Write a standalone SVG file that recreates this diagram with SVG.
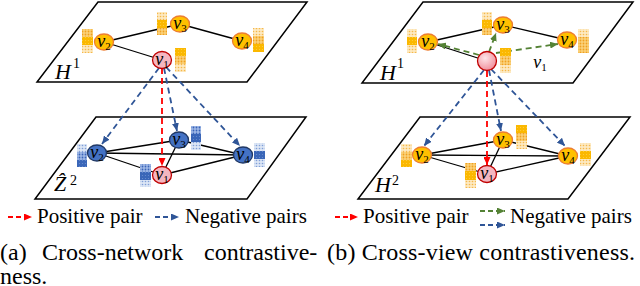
<svg xmlns="http://www.w3.org/2000/svg" width="640" height="286" viewBox="0 0 640 286">
<style>
.plane{fill:#fff;stroke:#000;stroke-width:1.5}
.edge{stroke:#000;stroke-width:1.3;fill:none}
.red{stroke:#ff0000;stroke-width:1.8;stroke-dasharray:6 4;fill:none}
.blue{stroke:#2f5597;stroke-width:1.8;stroke-dasharray:6 4;fill:none}
.green{stroke:#548235;stroke-width:1.8;stroke-dasharray:6 4;fill:none}
.on{fill:#ffc000;stroke:#ed7d31;stroke-width:1.3}
.pn{fill:#f4b6c0;stroke:#c00000;stroke-width:1.3}
.bn{fill:#4472c4;stroke:#203864;stroke-width:1.3}
text{font-family:'Liberation Serif','Times New Roman','DejaVu Serif',serif;fill:#000}
.lbl{font-style:italic;font-size:18px}
.sub{font-size:11px;font-style:normal}
.math{font-style:italic;font-size:22px}
.sup{font-size:14px}
.leg{font-size:21px}
.cap{font-size:24px}
</style>
<defs>
<pattern id="oL" width="3" height="3" patternUnits="userSpaceOnUse"><rect width="3" height="3" fill="#fde9c0"/><circle cx="1.5" cy="1.5" r="0.8" fill="#f6b84a"/></pattern>
<pattern id="oM" width="3" height="3" patternUnits="userSpaceOnUse"><rect width="3" height="3" fill="#fbd27a"/><circle cx="1.5" cy="1.5" r="0.9" fill="#f0a020"/></pattern>
<pattern id="oS" width="3" height="3" patternUnits="userSpaceOnUse"><rect width="3" height="3" fill="#fbb800"/><circle cx="1.5" cy="1.5" r="0.6" fill="#ffd040"/></pattern>
<pattern id="bL" width="3" height="3" patternUnits="userSpaceOnUse"><rect width="3" height="3" fill="#dbe5f5"/><circle cx="1.5" cy="1.5" r="0.8" fill="#7f9fd8"/></pattern>
<pattern id="bM" width="3" height="3" patternUnits="userSpaceOnUse"><rect width="3" height="3" fill="#9fb8e6"/><circle cx="1.5" cy="1.5" r="0.9" fill="#3a64b8"/></pattern>
<pattern id="bS" width="3" height="3" patternUnits="userSpaceOnUse"><rect width="3" height="3" fill="#3a66b8"/><circle cx="1.5" cy="1.5" r="0.6" fill="#6b8ed0"/></pattern>
<radialGradient id="pg" cx="0.4" cy="0.35" r="0.7"><stop offset="0" stop-color="#fde4e8"/><stop offset="1" stop-color="#f08a98"/></radialGradient>
<marker id="ar" markerWidth="8" markerHeight="7" refX="8" refY="3.5" orient="auto" markerUnits="userSpaceOnUse"><path d="M0,0 L8,3.5 L0,7 z" fill="#ff0000"/></marker>
<marker id="ab" markerWidth="8" markerHeight="7" refX="8" refY="3.5" orient="auto" markerUnits="userSpaceOnUse"><path d="M0,0 L8,3.5 L0,7 z" fill="#2f5597"/></marker>
<marker id="ag" markerWidth="8" markerHeight="7" refX="8" refY="3.5" orient="auto" markerUnits="userSpaceOnUse"><path d="M0,0 L8,3.5 L0,7 z" fill="#548235"/></marker>
</defs>

<g id="planes">
<polygon class="plane" points="98,2 307,2 247,82 37,82"/>
<polygon class="plane" points="96,117 306,117 247,199 35,199"/>
<polygon class="plane" points="423,2 633,2 573,83 362,83"/>
<polygon class="plane" points="420,117 630,117 568,199 358,199"/>
</g>

<g id="labels">
<text class="math" x="55" y="79">H</text><text class="sup" x="73" y="68">1</text>
<text class="math" x="54" y="191">Ẑ</text><text class="sup" x="70" y="185">2</text>
<text class="math" x="380" y="80">H</text><text class="sup" x="397" y="68">1</text>
<text class="math" x="375" y="192">H</text><text class="sup" x="392" y="185">2</text>
</g>

<g id="connectors">
<line class="edge" x1="104" y1="42" x2="180" y2="24"/>
<line class="edge" x1="180" y1="24" x2="242" y2="41"/>
<line class="edge" x1="104" y1="42" x2="162" y2="60"/>
<line class="edge" x1="97" y1="153" x2="179" y2="140"/>
<line class="edge" x1="179" y1="140" x2="243" y2="155"/>
<line class="edge" x1="97" y1="153" x2="243" y2="155"/>
<line class="edge" x1="97" y1="153" x2="162" y2="175"/>
<line class="edge" x1="162" y1="175" x2="243" y2="155"/>
<line class="edge" x1="179" y1="140" x2="162" y2="175"/>
<line class="blue" x1="159" y1="68" x2="102" y2="144" marker-end="url(#ab)"/>
<line class="blue" x1="164" y1="68" x2="177" y2="131" marker-end="url(#ab)"/>
<line class="blue" x1="166" y1="67" x2="240" y2="146" marker-end="url(#ab)"/>
<line class="red" x1="162" y1="68" x2="162" y2="166" marker-end="url(#ar)"/>
<line class="edge" x1="428" y1="42" x2="503" y2="25"/>
<line class="edge" x1="503" y1="25" x2="567" y2="40"/>
<line class="edge" x1="428" y1="42" x2="487" y2="61"/>
<line class="green" x1="479" y1="55" x2="438" y2="44" marker-end="url(#ag)"/>
<line class="green" x1="489" y1="52" x2="496" y2="33" marker-end="url(#ag)"/>
<line class="green" x1="496" y1="53" x2="558" y2="44" marker-end="url(#ag)"/>
<line class="edge" x1="422" y1="155" x2="503" y2="140"/>
<line class="edge" x1="503" y1="140" x2="568" y2="156"/>
<line class="edge" x1="422" y1="155" x2="568" y2="156"/>
<line class="edge" x1="422" y1="155" x2="487" y2="174"/>
<line class="edge" x1="487" y1="174" x2="568" y2="156"/>
<line class="edge" x1="503" y1="140" x2="487" y2="174"/>
<line class="blue" x1="484" y1="70" x2="424" y2="146" marker-end="url(#ab)"/>
<line class="blue" x1="489" y1="70" x2="501" y2="131" marker-end="url(#ab)"/>
<line class="blue" x1="491" y1="69" x2="565" y2="146" marker-end="url(#ab)"/>
<line class="red" x1="487" y1="71" x2="487" y2="165" marker-end="url(#ar)"/>
</g>

<g id="a-top-v2"><rect x="82" y="29" width="11" height="8" fill="url(#oM)"/><rect x="82" y="37" width="11" height="8" fill="url(#oS)"/><rect x="82" y="45" width="11" height="8" fill="url(#oL)"/>
<ellipse class="on" cx="104" cy="42" rx="9.5" ry="8"/><text class="lbl" x="104" y="47" text-anchor="middle">v<tspan class="sub" dy="3">2</tspan></text></g>
<g id="a-top-v3"><rect x="157" y="12" width="10" height="8" fill="url(#oL)"/><rect x="157" y="20" width="10" height="8" fill="url(#oS)"/><rect x="157" y="28" width="10" height="7" fill="url(#oM)"/>
<ellipse class="on" cx="180" cy="24" rx="9.5" ry="8"/><text class="lbl" x="180" y="29" text-anchor="middle">v<tspan class="sub" dy="3">3</tspan></text></g>
<g id="a-top-v4"><rect x="253" y="28" width="11" height="8" fill="url(#oL)"/><rect x="253" y="36" width="11" height="8" fill="url(#oM)"/><rect x="253" y="44" width="11" height="8" fill="url(#oS)"/>
<ellipse class="on" cx="242" cy="41" rx="9.5" ry="8"/><text class="lbl" x="242" y="46" text-anchor="middle">v<tspan class="sub" dy="3">4</tspan></text></g>
<g id="a-top-v1"><rect x="175" y="48" width="11" height="8" fill="url(#oS)"/><rect x="175" y="56" width="11" height="8" fill="url(#oM)"/><rect x="175" y="64" width="11" height="8" fill="url(#oL)"/>
<ellipse class="pn" cx="162" cy="60" rx="9.5" ry="8.5"/><text class="lbl" x="162" y="65" text-anchor="middle">v<tspan class="sub" dy="3">1</tspan></text></g>

<g id="a-bot-v2"><rect x="77" y="144" width="10" height="8" fill="url(#bL)"/><rect x="77" y="152" width="10" height="8" fill="url(#bM)"/><rect x="77" y="160" width="10" height="7" fill="url(#bS)"/>
<ellipse class="bn" cx="97" cy="153" rx="9.5" ry="8"/><text class="lbl" x="97" y="158" text-anchor="middle">v<tspan class="sub" dy="3">2</tspan></text></g>
<g id="a-bot-v3"><rect x="191" y="126" width="10" height="8" fill="url(#bM)"/><rect x="191" y="134" width="10" height="8" fill="url(#bS)"/><rect x="191" y="142" width="10" height="8" fill="url(#bL)"/>
<ellipse class="bn" cx="179" cy="140" rx="9.5" ry="8"/><text class="lbl" x="179" y="145" text-anchor="middle">v<tspan class="sub" dy="3">3</tspan></text></g>
<g id="a-bot-v4"><rect x="254" y="143" width="11" height="8" fill="url(#bL)"/><rect x="254" y="151" width="11" height="8" fill="url(#bS)"/><rect x="254" y="159" width="11" height="8" fill="url(#bL)"/>
<ellipse class="bn" cx="243" cy="155" rx="9.5" ry="8"/><text class="lbl" x="243" y="160" text-anchor="middle">v<tspan class="sub" dy="3">4</tspan></text></g>
<g id="a-bot-v1"><rect x="140" y="164" width="11" height="8" fill="url(#bM)"/><rect x="140" y="172" width="11" height="8" fill="url(#bS)"/><rect x="140" y="180" width="11" height="7" fill="url(#bL)"/>
<ellipse class="pn" cx="162" cy="175" rx="9.5" ry="8.5"/><text class="lbl" x="162" y="180" text-anchor="middle">v<tspan class="sub" dy="3">1</tspan></text></g>

<g id="b-top-v2"><rect x="407" y="29" width="10" height="8" fill="url(#oL)"/><rect x="407" y="37" width="10" height="8" fill="url(#oS)"/><rect x="407" y="45" width="10" height="8" fill="url(#oL)"/>
<ellipse class="on" cx="428" cy="42" rx="9.5" ry="8"/><text class="lbl" x="428" y="47" text-anchor="middle">v<tspan class="sub" dy="3">2</tspan></text></g>
<g id="b-top-v3"><rect x="482" y="12" width="10" height="8" fill="url(#oL)"/><rect x="482" y="20" width="10" height="8" fill="url(#oS)"/><rect x="482" y="28" width="10" height="7" fill="url(#oM)"/>
<ellipse class="on" cx="503" cy="25" rx="9.5" ry="8"/><text class="lbl" x="503" y="30" text-anchor="middle">v<tspan class="sub" dy="3">3</tspan></text></g>
<g id="b-top-v4"><rect x="578" y="29" width="11" height="8" fill="url(#oL)"/><rect x="578" y="37" width="11" height="8" fill="url(#oM)"/><rect x="578" y="45" width="11" height="8" fill="url(#oM)"/>
<ellipse class="on" cx="567" cy="40" rx="9.5" ry="8"/><text class="lbl" x="567" y="45" text-anchor="middle">v<tspan class="sub" dy="3">4</tspan></text></g>
<g id="b-top-v1"><rect x="500" y="48" width="11" height="8" fill="url(#oS)"/><rect x="500" y="56" width="11" height="9" fill="url(#oM)"/><rect x="500" y="65" width="11" height="8" fill="url(#oL)"/>
<circle cx="487" cy="61" r="9.5" fill="url(#pg)" stroke="#c00000" stroke-width="1.3"/>
<text class="lbl" x="540" y="68" text-anchor="middle">v<tspan class="sub" dy="3">1</tspan></text></g>

<g id="b-bot-v2"><rect x="401" y="144" width="11" height="8" fill="url(#oL)"/><rect x="401" y="152" width="11" height="8" fill="url(#oM)"/><rect x="401" y="160" width="11" height="7" fill="url(#oS)"/>
<ellipse class="on" cx="422" cy="155" rx="9.5" ry="8"/><text class="lbl" x="422" y="160" text-anchor="middle">v<tspan class="sub" dy="3">2</tspan></text></g>
<g id="b-bot-v3"><rect x="516" y="125" width="11" height="8" fill="url(#oS)"/><rect x="516" y="133" width="11" height="8" fill="url(#oM)"/><rect x="516" y="141" width="11" height="8" fill="url(#oL)"/>
<ellipse class="on" cx="503" cy="140" rx="9.5" ry="8"/><text class="lbl" x="503" y="145" text-anchor="middle">v<tspan class="sub" dy="3">3</tspan></text></g>
<g id="b-bot-v4"><rect x="580" y="143" width="11" height="8" fill="url(#oL)"/><rect x="580" y="151" width="11" height="8" fill="url(#oS)"/><rect x="580" y="159" width="11" height="7" fill="url(#oL)"/>
<ellipse class="on" cx="568" cy="156" rx="9.5" ry="8"/><text class="lbl" x="568" y="161" text-anchor="middle">v<tspan class="sub" dy="3">4</tspan></text></g>
<g id="b-bot-v1"><rect x="465" y="163" width="11" height="8" fill="url(#oM)"/><rect x="465" y="171" width="11" height="9" fill="url(#oS)"/><rect x="465" y="180" width="11" height="8" fill="url(#oL)"/>
<ellipse class="pn" cx="487" cy="174" rx="9.5" ry="8.5"/><text class="lbl" x="487" y="179" text-anchor="middle">v<tspan class="sub" dy="3">1</tspan></text></g>

<g id="legend-a">
<line class="red" x1="8" y1="217" x2="32" y2="217" style="stroke-dasharray:5 3" marker-end="url(#ar)"/>
<text class="leg" x="37" y="223">Positive pair</text>
<line class="blue" x1="155" y1="217" x2="179" y2="217" style="stroke-dasharray:5 3" marker-end="url(#ab)"/>
<text class="leg" x="185" y="223">Negative pairs</text>
</g>
<g id="legend-b">
<line class="red" x1="335" y1="217" x2="358" y2="217" style="stroke-dasharray:5 3" marker-end="url(#ar)"/>
<text class="leg" x="363" y="223">Positive pair</text>
<line class="green" x1="480" y1="211" x2="505" y2="211" style="stroke-dasharray:5 3" marker-end="url(#ag)"/>
<line class="blue" x1="480" y1="225" x2="505" y2="225" style="stroke-dasharray:5 3" marker-end="url(#ab)"/>
<text class="leg" x="510" y="223">Negative pairs</text>
</g>

<g id="captions">
<text class="cap" x="0" y="260">(a)</text>
<text class="cap" x="42" y="260">Cross-network</text>
<text class="cap" x="204" y="260">contrastive-</text>
<text class="cap" x="0" y="284">ness.</text>
<text class="cap" x="327" y="260" textLength="308">(b) Cross-view contrastiveness.</text>
</g>
</svg>
